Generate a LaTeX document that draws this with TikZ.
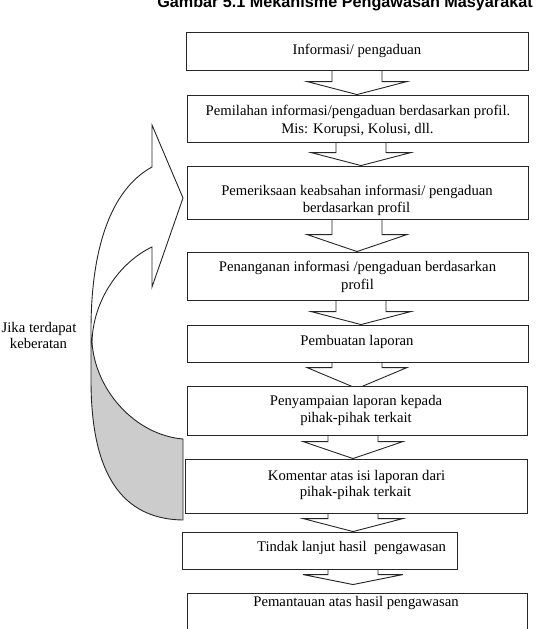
\documentclass[tikz,border=0pt]{standalone}
\usepackage{fontspec}
\setmainfont{Liberation Serif}
\newfontfamily\titlefont{Liberation Sans}
\usetikzlibrary{calc}
\pgfdeclarelayer{background}
\pgfsetlayers{background,main}
\tikzset{
  box/.style={draw=black!85, line width=0.9pt, fill=white, inner sep=0pt},
  txt/.style={inner sep=0pt, font=\fontsize{14.7}{17.5}\selectfont, anchor=base},
  blockarrow/.style={draw=black!85, line width=0.9pt, fill=white, line join=miter},
  ribbon/.style={draw=black!85, line width=0.9pt, line join=miter},
}
% #1 from node, #2 to node, #3 centre x, #4 head length, #5 tip depth below top of #2
\newcommand\barrow[5]{%
  \draw[blockarrow] let \p1=(#1.south), \p2=(#2.north) in
    ({(#3-25)*1pt},\y1) -- ({(#3-25)*1pt},{\y2-(#5)*1pt+(#4)*1pt})
    -- ({(#3-50)*1pt},{\y2-(#5)*1pt+(#4)*1pt}) -- ({#3*1pt},{\y2-(#5)*1pt})
    -- ({(#3+50)*1pt},{\y2-(#5)*1pt+(#4)*1pt}) -- ({(#3+25)*1pt},{\y2-(#5)*1pt+(#4)*1pt})
    -- ({(#3+25)*1pt},\y1);}
\begin{document}
\begin{tikzpicture}[x=1pt,y=-1pt]
\useasboundingbox (0,0) rectangle (536,629);

% title
\node[font=\titlefont\bfseries\fontsize{16.2}{19}\selectfont, anchor=base, inner sep=0pt] (title) at (345,7.5) {Gambar 5.1 Mekanisme Pengawasan Masyarakat};

% boxes
\node[box, minimum width=342pt, minimum height=37.5pt] (b1) at (357,51.25) {};
\node[box, minimum width=341pt, minimum height=47pt] (b2) at (357.5,118.5) {};
\node[box, minimum width=341pt, minimum height=53pt] (b3) at (357.5,192.5) {};
\node[box, minimum width=341pt, minimum height=48pt] (b4) at (357.5,276) {};
\node[box, minimum width=341pt, minimum height=37pt] (b5) at (357.5,343.5) {};
\node[box, minimum width=340pt, minimum height=49pt] (b6) at (357,410.5) {};
\node[box, minimum width=342pt, minimum height=54pt] (b7) at (356,486) {};
\node[box, minimum width=275pt, minimum height=37pt] (b8) at (319.5,550.5) {};
\node[box, minimum width=340pt, minimum height=67pt] (b9) at (357,626.5) {};

% texts
\node[txt] (t1) at (357,54) {Informasi/ pengaduan};
\node[txt] (t2a) at (358,115) {Pemilahan informasi/pengaduan berdasarkan profil.};
\node[txt] (t2b) at (357.5,133) {Mis: Korupsi, Kolusi, dll.};
\node[txt] (t3a) at (357,195.5) {Pemeriksaan keabsahan informasi/ pengaduan};
\node[txt] (t3b) at (356.5,212.5) {berdasarkan profil};
\node[txt] (t4a) at (357.5,271.7) {Penanganan informasi /pengaduan berdasarkan};
\node[txt] (t4b) at (357.5,289) {profil};
\node[txt] (t5) at (357,345) {Pembuatan laporan};
\node[txt] (t6a) at (356,405) {Penyampaian laporan kepada};
\node[txt] (t6b) at (356,422.7) {pihak-pihak terkait};
\node[txt] (t7a) at (356.5,480) {Komentar atas isi laporan dari};
\node[txt] (t7b) at (355.5,496.7) {pihak-pihak terkait};
\node[txt] (t8) at (351.5,551.7) {Tindak lanjut hasil\ \ pengawasan};
\node[txt] (t9) at (356,606) {Pemantauan atas hasil pengawasan};

\node[txt] (j1) at (39,332) {Jika terdapat};
\node[txt] (j2) at (38.5,348) {keberatan};

% block arrows between boxes (behind the boxes)
\begin{pgfonlayer}{background}
\fill[white] (0,0) rectangle (536,629);
\barrow{b1}{b2}{357}{13}{0}
\barrow{b2}{b3}{361}{13}{0}
\barrow{b3}{b4}{357}{17}{0}
\barrow{b4}{b5}{361}{13}{0}
\barrow{b5}{b6}{357}{21}{3}
\barrow{b6}{b7}{353}{17}{0}
\barrow{b7}{b8}{353}{13}{0}
\barrow{b8}{b9}{353}{10}{-8}
\end{pgfonlayer}

% curved feedback arrow: shaded back part
\filldraw[ribbon, fill=black!20]
  (91,342) -- (91,380) .. controls (91,460) and (113,519) .. (183,520)
  -- (183,439) .. controls (135,435) and (95,390) .. (92,342) -- cycle;
% front band with arrowhead
\filldraw[ribbon, fill=white]
  (152,167) .. controls (110,190) and (91,250) .. (91,330) -- (91,342)
  -- (92,342) .. controls (93,300) and (120,262) .. (152,247)
  -- (152,287) -- (183,198) -- (152,125) -- cycle;
\end{tikzpicture}
\end{document}
